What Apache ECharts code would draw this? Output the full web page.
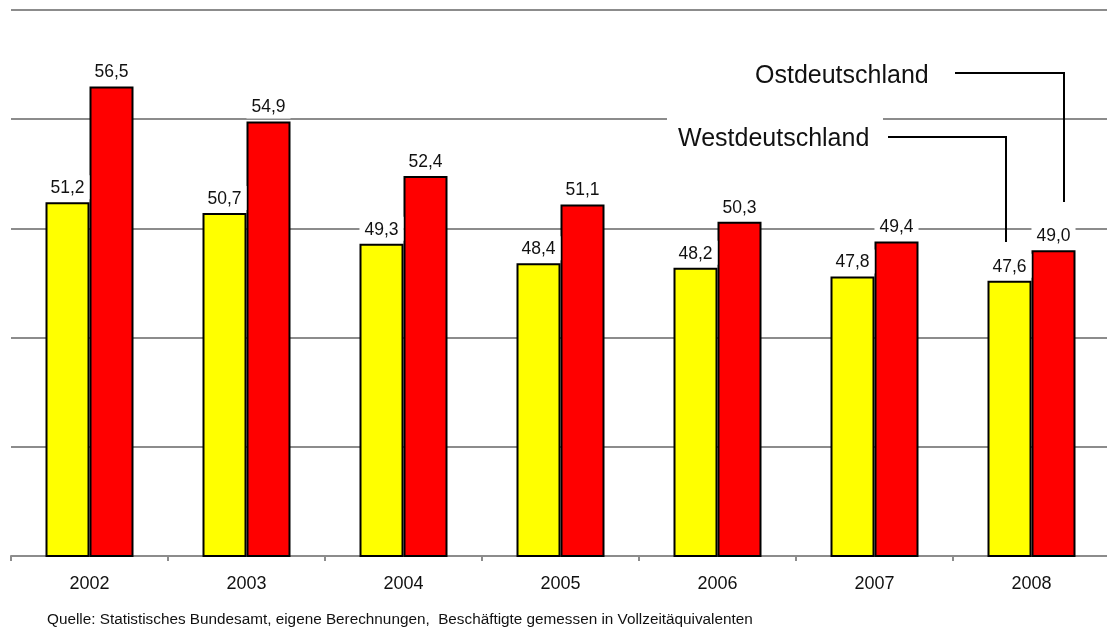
<!DOCTYPE html>
<html>
<head>
<meta charset="utf-8">
<script src="https://cdn.jsdelivr.net/npm/echarts@6/dist/echarts.min.js"></script>
<style>
html,body{margin:0;padding:0;background:#fff;overflow:hidden;width:1107px;height:637px;}
#chart{width:1110px;height:637px;}
</style>
</head>
<body>
<div id="chart"></div>
<script>
const years = ['2002','2003','2004','2005','2006','2007','2008'];
const west = [51.2, 50.7, 49.3, 48.4, 48.2, 47.8, 47.6];
const ost = [56.5, 54.9, 52.4, 51.1, 50.3, 49.4, 49.0];
const westName = 'Westdeutschland';
const ostName = 'Ostdeutschland';
const sourceText = 'Quelle: Statistisches Bundesamt, eigene Berechnungen,  Beschäftigte gemessen in Vollzeitäquivalenten';

const FONT = '"Liberation Sans", Arial, sans-serif';
const fmt = v => v.toFixed(1).replace('.', ',');

const labelCfg = {
  show: true,
  position: 'top',
  distance: 3,
  formatter: p => fmt(p.value),
  fontFamily: FONT,
  fontSize: 17.5,
  color: '#111',
  backgroundColor: '#fff',
  padding: [4, 5, 2, 5]
};

const chart = echarts.init(document.getElementById('chart'), null, {renderer: 'canvas'});
chart.setOption({
  animation: false,
  backgroundColor: '#fff',
  grid: {left: 11, top: 10, right: 0, bottom: 81, containLabel: false},
  xAxis: {
    type: 'category',
    data: years,
    boundaryGap: true,
    axisLine: {lineStyle: {color: '#8c8c8c', width: 2}},
    axisTick: {show: true, length: 5, lineStyle: {color: '#8c8c8c', width: 2}},
    axisLabel: {fontFamily: FONT, fontSize: 18, color: '#111', margin: 19}
  },
  yAxis: {
    type: 'value',
    min: 35, max: 60, interval: 5,
    axisLabel: {show: false},
    axisLine: {show: false},
    axisTick: {show: false},
    splitLine: {lineStyle: {color: '#8c8c8c', width: 2}}
  },
  series: [
    {
      name: westName, type: 'bar', data: west,
      barWidth: 44, barGap: '0%',
      itemStyle: {color: '#ffff00', borderColor: '#000', borderWidth: 2},
      label: labelCfg
    },
    {
      name: ostName, type: 'bar', data: ost,
      barWidth: 44, barGap: '0%',
      itemStyle: {color: '#ff0000', borderColor: '#000', borderWidth: 2},
      label: labelCfg
    }
  ],
  graphic: [
    {type: 'rect', z: 100, shape: {x: 667, y: 113, width: 216, height: 45}, style: {fill: '#fff'}},
    {type: 'text', z: 101, left: 755, top: 64, style: {text: ostName, font: '25px ' + FONT, fill: '#111'}},
    {type: 'text', z: 101, left: 678, top: 127, style: {text: westName, font: '25px ' + FONT, fill: '#111'}},
    {type: 'polyline', z: 101, shape: {points: [[955, 73], [1064, 73], [1064, 202]]}, style: {stroke: '#000', lineWidth: 2, fill: null}},
    {type: 'polyline', z: 101, shape: {points: [[888, 137], [1006, 137], [1006, 242]]}, style: {stroke: '#000', lineWidth: 2, fill: null}},
    {type: 'text', z: 101, left: 47, top: 612, style: {text: sourceText, font: '15.3px ' + FONT, fill: '#111'}}
  ]
});
</script>
</body>
</html>
